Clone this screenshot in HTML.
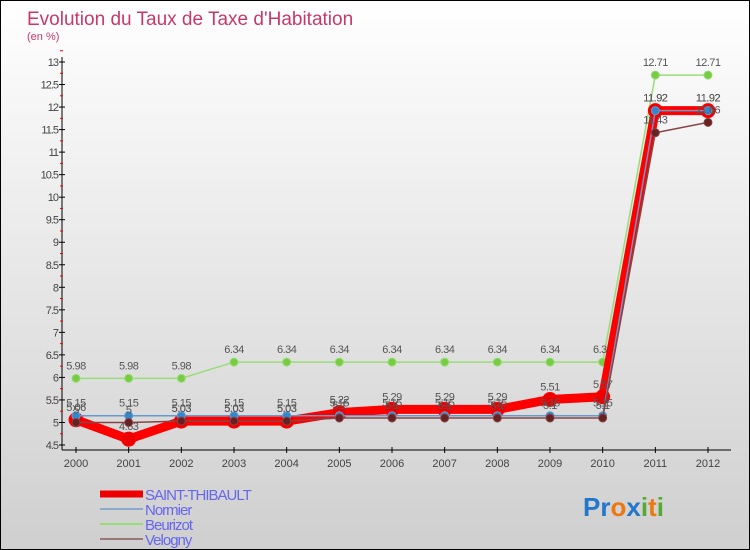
<!DOCTYPE html>
<html><head><meta charset="utf-8"><style>
body{margin:0}
#c{width:748px;height:548px;border:1px solid #000;background:linear-gradient(#fff,#cfcfcf);position:relative;font-family:"Liberation Sans",sans-serif;overflow:hidden}
svg text{font-family:"Liberation Sans",sans-serif}
</style></head><body>
<div id="c">
<svg id="s" width="748" height="548">
<text x="26" y="24" font-size="19" fill="#c8386a">Evolution du Taux de Taxe d'Habitation</text>
<text x="26" y="39" font-size="11" fill="#c8386a">(en %)</text>
</svg>
</div>
<script>
const years=[2000,2001,2002,2003,2004,2005,2006,2007,2008,2009,2010,2011,2012];
const saintThibault=[5.06,4.63,5.03,5.03,5.03,5.22,5.29,5.29,5.29,5.51,5.57,11.92,11.92];
const normier=[5.15,5.15,5.15,5.15,5.15,5.15,5.15,5.15,5.15,5.15,5.15,11.92,11.92];
const beurizot=[5.98,5.98,5.98,6.34,6.34,6.34,6.34,6.34,6.34,6.34,6.34,12.71,12.71];
const velogny=[5.0,5.0,5.03,5.03,5.03,5.1,5.1,5.1,5.1,5.1,5.1,11.43,11.66];
const yTicks=[4.5,5,5.5,6,6.5,7,7.5,8,8.5,9,9.5,10,10.5,11,11.5,12,12.5,13];
const ns="http://www.w3.org/2000/svg",svg=document.getElementById('s');
const X=i=>75+i*(707-75)/(years.length-1);
const Y=v=>444-(v-4.5)*(444-61)/8.5;
function el(t,a,p){const e=document.createElementNS(ns,t);for(const k in a)e.setAttribute(k,a[k]);(p||svg).appendChild(e);return e;}
// axes
let ax=el('line',{x1:61,y1:56,x2:61,y2:449,stroke:'#000'});


let xa=el('line',{x1:61,y1:449,x2:730,y2:449,stroke:'#000'});


yTicks.forEach(v=>{
  el('line',{x1:58,y1:Y(v),x2:64,y2:Y(v),stroke:'#000'});
  el('line',{x1:59,y1:Y(v+0.25),x2:62,y2:Y(v+0.25),stroke:'#e00'});
  const t=el('text',{x:57,y:Y(v)+4,'font-size':11,fill:'#444','text-anchor':'end','letter-spacing':'-1'});
  t.textContent=String(v);
  
  
});
years.forEach((y,i)=>{
  el('line',{x1:X(i),y1:446,x2:X(i),y2:452,stroke:'#000'});
  const t=el('text',{x:X(i),y:466,'font-size':11,fill:'#444','text-anchor':'middle'});
  t.textContent=y;
  
  
});
function series(d,color,w,r,name,dot){
  const g=el('g',{});
  
  
  el('polyline',{points:d.map((v,i)=>X(i)+','+Y(v)).join(' '),fill:'none',stroke:color,'stroke-width':w},g);
  d.forEach((v,i)=>{
    const c=el('circle',{cx:X(i),cy:Y(v),r:r,fill:dot,stroke:color},g);
    
    
    const t=el('text',{x:X(i),y:Y(v)-9,'font-size':11,fill:'#555','text-anchor':'middle','letter-spacing':'-0.5'},g);
    t.textContent=String(v);
    
    
  });
}
series(beurizot,'#99dd77',1.5,4,'beurizot','#77cc44');
series(saintThibault,'#ff0000',9,7,'saint-thibault','#ee0000');
series(normier,'#6699cc',1.5,4,'normier','#3388cc');
series(velogny,'#884444',1.5,4,'velogny','#662222');
// legend
const leg=[['SAINT-THIBAULT','#ee0000',7],['Normier','#88aacc',2],['Beurizot','#99dd77',2],['Velogny','#997777',2]];
leg.forEach((l,i)=>{
  const y=493+i*15;
  const ln=el('line',{x1:99,y1:y,x2:142,y2:y,stroke:l[1],'stroke-width':l[2]});
  
  
  const t=el('text',{x:144,y:y+6,'font-size':15,fill:'#6666ee','letter-spacing':'-1'});
  t.textContent=l[0];
  
  
});
const logo=el('text',{x:582,y:515,'font-size':26,'font-weight':'bold'});


[['Pr','#2277cc'],['o','#ee7711'],['x','#2277cc'],['i','#55aa33'],['t','#ee7711'],['i','#55aa33']].forEach(p=>{const s=el('tspan',{fill:p[1]},logo);s.textContent=p[0];});
</script>
</body></html>
